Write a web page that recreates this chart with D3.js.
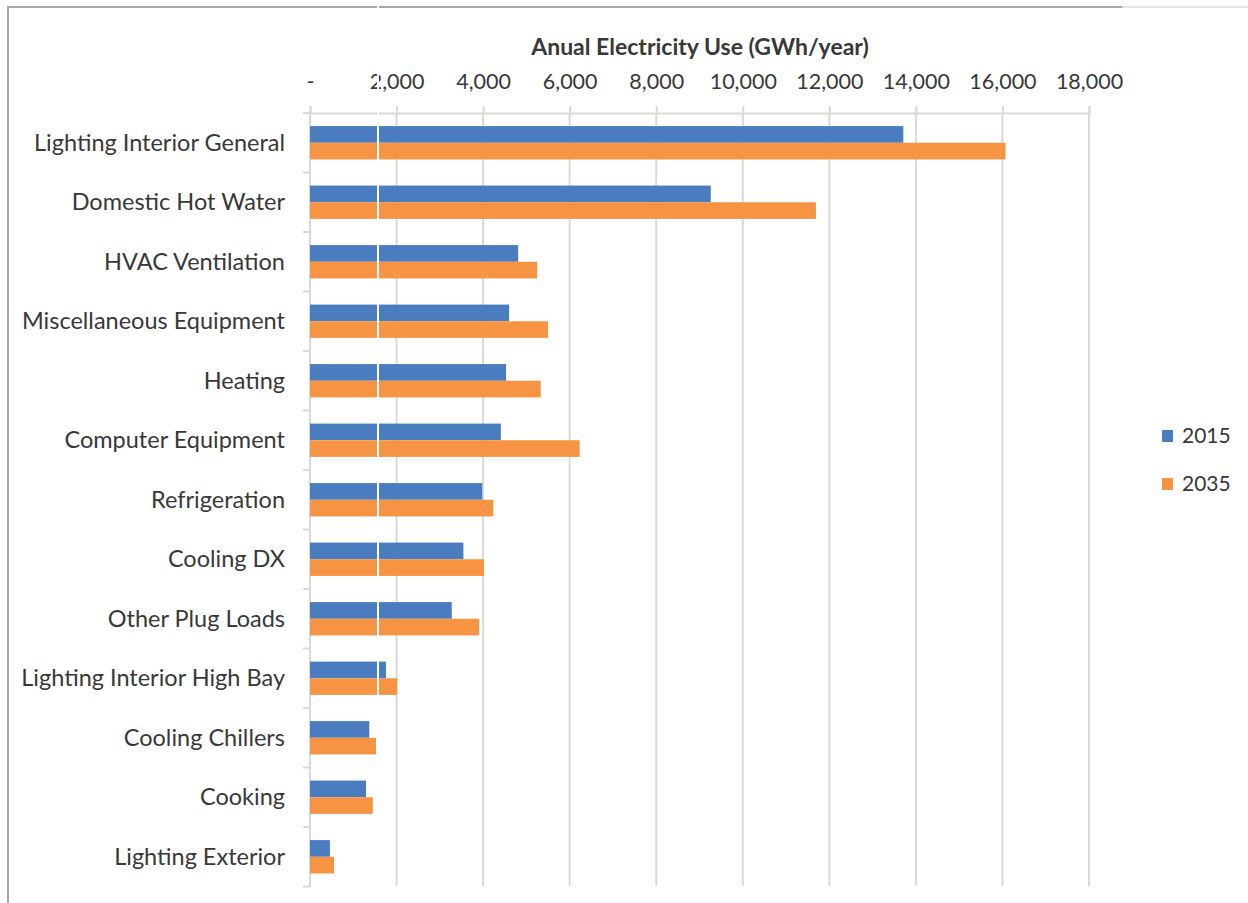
<!DOCTYPE html>
<html>
<head>
<meta charset="utf-8">
<script src="https://cdn.jsdelivr.net/npm/d3@7"></script>
<style>
  body { margin: 0; background: #fff; }
  text { font-family: Lato, "Open Sans", sans-serif; fill: #383838; }
</style>
</head>
<body>
<svg id="chart" width="1248" height="903"></svg>
<script>
// values (GWh/year)
var categories = ["Lighting Interior General", "Domestic Hot Water", "HVAC Ventilation",
  "Miscellaneous Equipment", "Heating", "Computer Equipment", "Refrigeration", "Cooling DX",
  "Other Plug Loads", "Lighting Interior High Bay", "Cooling Chillers", "Cooking", "Lighting Exterior"];
var years = ["2015", "2035"];
var use2015 = [13710, 9260, 4810, 4600, 4530, 4410, 3980, 3545, 3275, 1755, 1370, 1295, 460];
var use2035 = [16070, 11690, 5250, 5500, 5330, 6230, 4235, 4020, 3910, 2015, 1525, 1450, 555];
var xTicks = [0, 2000, 4000, 6000, 8000, 10000, 12000, 14000, 16000, 18000];
var colors = ["#4a7dbf", "#f79443"];

var svg = d3.select("#chart");

var x = d3.scaleLinear().domain([0, 18000]).range([310, 1089]);
var y0 = d3.scaleBand().domain(categories).range([113, 886.5])
    .paddingInner(0.44).paddingOuter(0.22);
var y1 = d3.scaleBand().domain(years).range([0, y0.bandwidth()]);

var grid = "#d9d9d9";

// frame
svg.append("line").attr("x1", 8).attr("x2", 1122).attr("y1", 7).attr("y2", 7)
    .style("stroke", "#a6a6a6").style("stroke-width", 2);
svg.append("line").attr("x1", 1122).attr("x2", 1248).attr("y1", 7).attr("y2", 7)
    .style("stroke", "#e4e4e4").style("stroke-width", 2);
svg.append("line").attr("x1", 8).attr("x2", 8).attr("y1", 6).attr("y2", 903)
    .style("stroke", "#a6a6a6").style("stroke-width", 2);

// vertical gridlines
svg.append("g").selectAll("line").data(xTicks.slice(1)).enter().append("line")
    .attr("x1", function(d) { return x(d); })
    .attr("x2", function(d) { return x(d); })
    .attr("y1", 113).attr("y2", 886)
    .style("stroke", grid).style("stroke-width", 2);

// top axis
var xAxis = d3.axisTop(x).tickValues(xTicks).tickSize(7).tickPadding(17)
    .tickFormat(function(d) { return d === 0 ? "-" : d3.format(",")(d); });
var ax = svg.append("g").attr("transform", "translate(0,113)").call(xAxis);
ax.select(".domain").style("stroke", grid).style("stroke-width", 2);
ax.selectAll(".tick line").style("stroke", grid).style("stroke-width", 2);
ax.selectAll(".tick text").style("font-size", "21.5px").style("fill", "#383838")
    .style("font-family", "Lato, sans-serif");

svg.append("text").attr("x", 700).attr("y", 55).attr("text-anchor", "middle")
    .style("font-size", "23px").style("font-weight", "bold")
    .text("Anual Electricity Use (GWh/year)");

// left axis line and boundary ticks
svg.append("line").attr("x1", 310).attr("x2", 310).attr("y1", 113).attr("y2", 887)
    .style("stroke", grid).style("stroke-width", 2);
var bounds = categories.map(function(c) { return y0(c) - y0.step() * 0.22; });
bounds.push(886.5);
svg.append("g").selectAll("line").data(bounds).enter().append("line")
    .attr("x1", 303).attr("x2", 310)
    .attr("y1", function(d) { return d; }).attr("y2", function(d) { return d; })
    .style("stroke", grid).style("stroke-width", 2);

// bars
var rows = categories.map(function(c, i) { return { cat: c, vals: [use2015[i], use2035[i]] }; });
var groups = svg.append("g").selectAll("g").data(rows).enter().append("g")
    .attr("transform", function(d) { return "translate(0," + y0(d.cat) + ")"; });
groups.selectAll("rect").data(function(d) { return d.vals; }).enter().append("rect")
    .attr("x", x(0))
    .attr("y", function(d, i) { return y1(years[i]); })
    .attr("height", y1.bandwidth())
    .attr("width", function(d) { return x(d) - x(0); })
    .style("fill", function(d, i) { return colors[i]; });

// category labels
svg.append("g").selectAll("text").data(categories).enter().append("text")
    .attr("x", 285)
    .attr("y", function(d) { return y0(d) + y0.bandwidth() / 2; })
    .attr("dy", "0.35em")
    .attr("text-anchor", "end")
    .style("font-size", "23.5px")
    .text(function(d) { return d; });

// legend
var legend = svg.append("g").selectAll("g").data(years).enter().append("g")
    .attr("transform", function(d, i) { return "translate(1162," + (436 + i * 48) + ")"; });
legend.append("rect").attr("x", 0).attr("y", -6).attr("width", 11).attr("height", 12)
    .style("fill", function(d, i) { return colors[i]; });
legend.append("text").attr("x", 20).attr("dy", "0.35em").style("font-size", "21px")
    .text(function(d) { return d; });

// white streak running down the original image
svg.append("line").attr("x1", 378).attr("x2", 378).attr("y1", 0).attr("y2", 903)
    .style("stroke", "#fff").style("stroke-width", 2);
</script>
</body>
</html>
